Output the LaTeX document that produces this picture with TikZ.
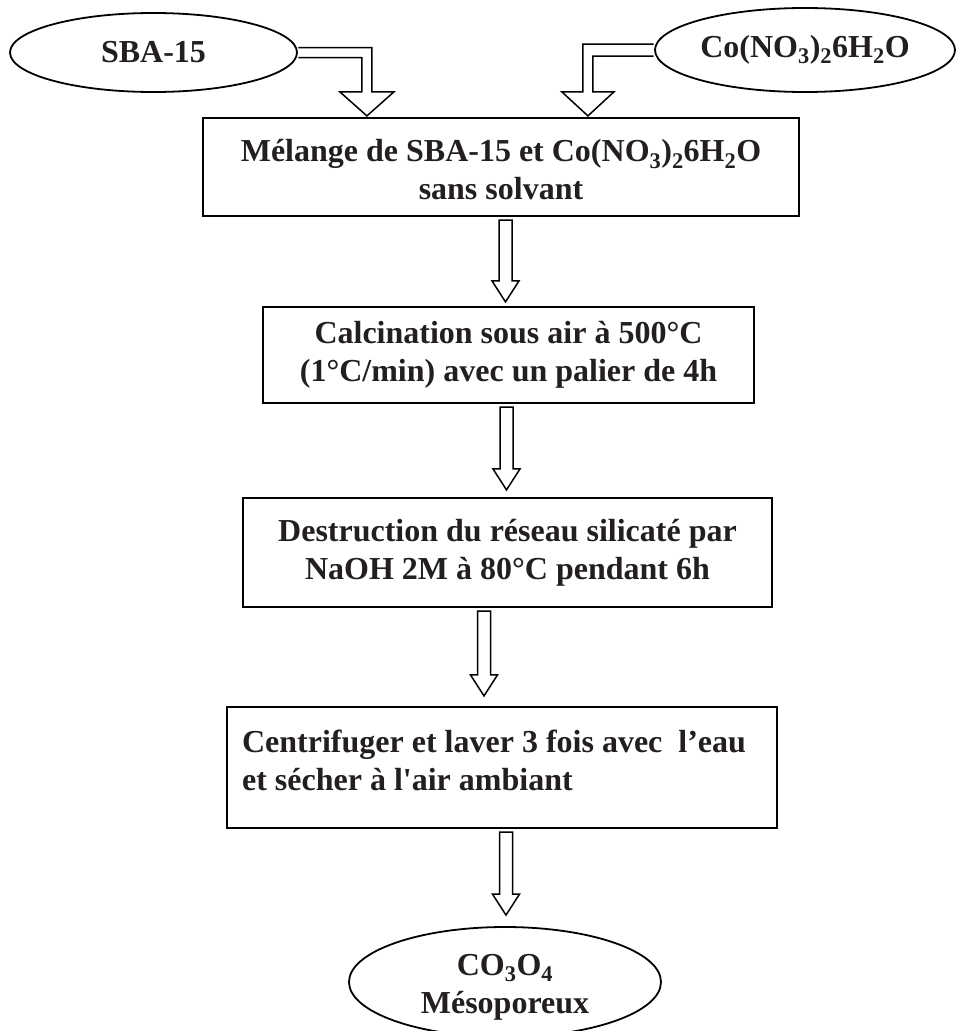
\documentclass[tikz,border=0pt]{standalone}
\usepackage{fontspec}
\setmainfont{Liberation Serif}
\usetikzlibrary{calc,shapes.geometric}
\definecolor{ink}{RGB}{35,31,32}

% straight hollow block arrow: #1 = top of the shaft, #2 = tip
\newcommand\vblock[2]{%
  \draw[blockarrow] ($(#1)+(-6.5,0)$) -- ($(#2)+(-6.5,-21)$) -- ($(#2)+(-13.5,-21)$)
    -- (#2) -- ($(#2)+(13.5,-21)$) -- ($(#2)+(6.5,-21)$) -- ($(#1)+(6.5,0)$) -- cycle;}

\begin{document}
\begin{tikzpicture}[x=1pt,y=-1pt,
  every node/.style={font=\fontsize{32}{38}\selectfont\bfseries, text=ink},
  stepbox/.style={draw=black, line width=2.2pt, rectangle, inner sep=0pt, align=center},
  oval/.style={draw=black, line width=1.8pt, ellipse, inner sep=0pt, align=center},
  blockarrow/.style={draw=black, line width=1.5pt, fill=white, line join=miter}]
\useasboundingbox (0,0) rectangle (956,1031);

% starting materials
\node[oval, minimum width=287, minimum height=79] (sba) at (153.5,52.5) {SBA-15};
\node[oval, minimum width=300, minimum height=84] (co) at (805,50)
  {Co(NO\textsubscript{3})\textsubscript{2}6H\textsubscript{2}O};

% process steps
\node[stepbox, minimum width=596, minimum height=98] (b1) at (501,167) {};
\node[align=center, inner sep=0pt] (b1text) at ($(b1.center)+(0,3)$)
  {Mélange de SBA-15 et Co(NO\textsubscript{3})\textsubscript{2}6H\textsubscript{2}O\\sans solvant};
\node[stepbox, minimum width=491, minimum height=96] (b2) at (508.5,355)
  {Calcination sous air à 500°C\\(1°C/min) avec un palier de 4h};
\node[stepbox, minimum width=529, minimum height=109] (b3) at (507.5,552.5)
  {Destruction du réseau silicaté par\\NaOH 2M à 80°C pendant 6h};
\node[stepbox, minimum width=550, minimum height=121] (b4) at (502,767.5) {};
\node[anchor=north west, align=left, inner sep=0pt] (b4text) at ($(b4.north west)+(16,24)$)
  {Centrifuger et laver 3 fois avec~ l’eau\\et sécher à l\textquotesingle air ambiant};

% product
\node[oval, minimum width=312, minimum height=110] (prod) at (505,982) {};
\node[align=center, inner sep=0pt] (prodtext) at ($(prod.center)+(0,5)$)
  {CO\textsubscript{3}O\textsubscript{4}\\Mésoporeux};

% bent arrows from the two reagents
\coordinate (t1) at ($(b1.north west)+(165,-1)$);
\draw[blockarrow] ($(sba.east)+(0.5,-5)$) -- ($(t1|-sba.east)+(5,-5)$) -- ($(t1)+(5,-24)$)
  -- ($(t1)+(27,-24)$) -- (t1) -- ($(t1)+(-27,-24)$) -- ($(t1)+(-5,-24)$)
  -- ($(t1|-sba.east)+(-5,5)$) -- ($(sba.east)+(0.5,5)$);
\coordinate (t2) at ($(b1.north west)+(386,-1)$);
\draw[blockarrow] ($(co.west)+(-0.5,-6)$) -- ($(t2|-co.west)+(-5,-6)$) -- ($(t2)+(-5,-24)$)
  -- ($(t2)+(-26,-24)$) -- (t2) -- ($(t2)+(26,-24)$) -- ($(t2)+(5,-24)$)
  -- ($(t2|-co.west)+(5,6)$) -- ($(co.west)+(-0.5,6)$);

% arrows between the steps
\coordinate (a1s) at ($(b1.south)+(4.5,3)$);
\coordinate (a1e) at ($(a1s|-b2.north)+(0,-4)$);
\vblock{a1s}{a1e}
\coordinate (a2s) at ($(b2.south)+(-2,3)$);
\coordinate (a2e) at ($(a2s|-b3.north)+(0,-7)$);
\vblock{a2s}{a2e}
\coordinate (a3s) at ($(b3.south)+(-23.5,3)$);
\coordinate (a3e) at ($(a3s|-b4.north)+(0,-10)$);
\vblock{a3s}{a3e}
\coordinate (a4s) at ($(b4.south)+(4,3)$);
\coordinate (a4e) at ($(a4s|-prod.north)+(0,-11)$);
\vblock{a4s}{a4e}
\end{tikzpicture}
\end{document}
